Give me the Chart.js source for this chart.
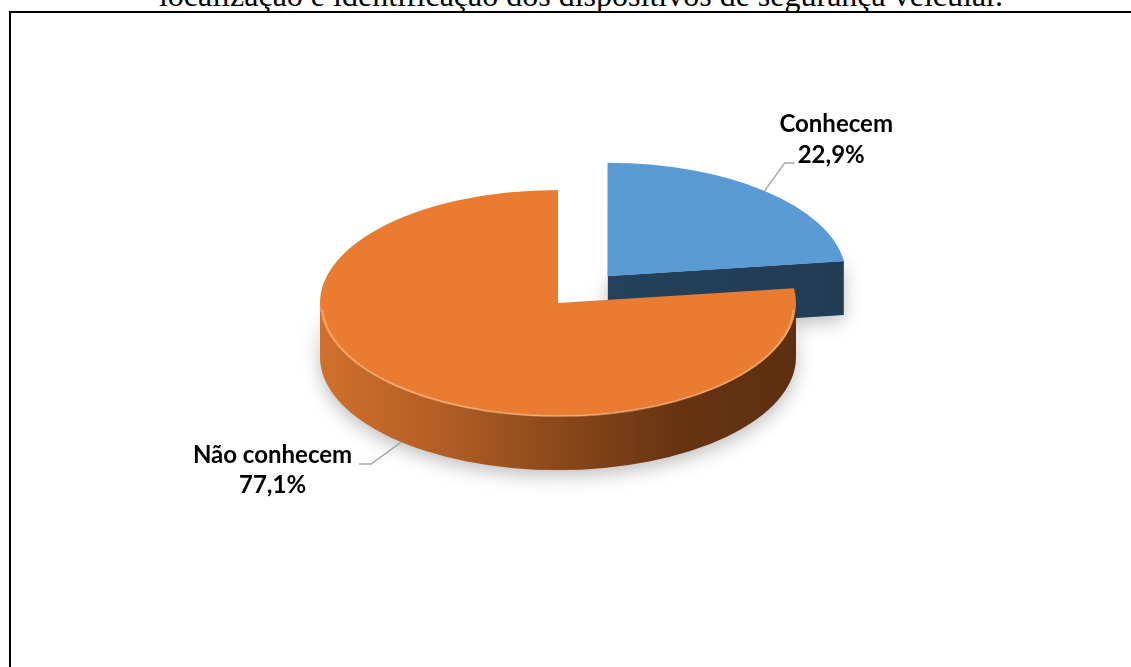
<!DOCTYPE html>
<html>
<head>
<meta charset="utf-8">
<script src="https://cdn.jsdelivr.net/npm/chart.js@4.4.1/dist/chart.umd.min.js"></script>
<style>
  html, body { margin: 0; padding: 0; background: #fff; }
  #wrap { position: relative; width: 1131px; height: 667px; overflow: hidden; }
  #caption {
    position: absolute; left: 0; top: -23px; width: 1162px;
    text-align: center; white-space: nowrap;
    font: 32px/36px "Liberation Serif", "Times New Roman", serif; color: #000;
  }
  #frame {
    position: absolute; left: 9px; top: 11px; width: 1124px; height: 700px;
    border: 2px solid #000; box-sizing: border-box;
  }
  #pie { position: absolute; left: 0; top: 0; }
</style>
</head>
<body>
<div id="wrap">
  <div id="caption">localização e identificação dos dispositivos de segurança veicular.</div>
  <div id="frame"></div>
  <canvas id="pie" width="1131" height="667"></canvas>
</div>
<script>
// answers to the question, in percent
const categories = ['Conhecem', 'Não conhecem'];
const shares = [22.9, 77.1];

const TILT = 0.475;  // vertical squash of the disc
const DEPTH = 54;    // thickness of the disc in px

// where an arc really sits once chart.js has applied its offset
const arcGeom = function getArcGeometry(arc) {
  const p = arc.getProps(['x', 'y', 'startAngle', 'endAngle', 'outerRadius', 'circumference'], true);
  const off = (arc.options.offset || 0) / 4;
  const fix = 1 - Math.sin(Math.min(Math.PI, p.circumference || 0));
  const mid = (p.startAngle + p.endAngle) / 2;
  const d = off * (1 + fix);
  return {
    cx: p.x, cy: p.y, r: p.outerRadius,
    ox: Math.cos(mid) * d, oy: Math.sin(mid) * d,
    a0: p.startAngle, a1: p.endAngle, mid: mid
  };
};

const pt = (g, ang, r, drop) => [
  g.cx + g.ox + r * Math.cos(ang),
  g.cy + (g.oy + r * Math.sin(ang)) * TILT + (drop || 0)
];

const sideFill = function makeSideFill(ctx, g, stops) {
  const grad = ctx.createLinearGradient(g.cx + g.ox - g.r, 0, g.cx + g.ox + g.r, 0);
  stops.forEach((c, i) => grad.addColorStop(i / (stops.length - 1), c));
  return grad;
};

const drawSides = function drawSliceSides(ctx, g, stops) {
  const ex = g.cx + g.ox, ey = g.cy + g.oy * TILT;
  ctx.fillStyle = sideFill(ctx, g, stops);

  // outer rim, only the front half is seen
  for (let k = -1; k <= 1; k++) {
    const lo = Math.max(g.a0, 2 * Math.PI * k);
    const hi = Math.min(g.a1, Math.PI + 2 * Math.PI * k);
    if (hi <= lo) continue;
    ctx.beginPath();
    ctx.ellipse(ex, ey, g.r, g.r * TILT, 0, lo, hi);
    const b = pt(g, hi, g.r, DEPTH);
    ctx.lineTo(b[0], b[1]);
    ctx.ellipse(ex, ey + DEPTH, g.r, g.r * TILT, 0, hi, lo, true);
    ctx.closePath();
    ctx.fill();
  }

  // cut faces of the wedge
  const faces = [];
  if (Math.cos(g.a1) > 0.01) faces.push(g.a1);
  if (Math.cos(g.a0) < -0.01) faces.push(g.a0);
  faces.forEach(a => {
    const e = pt(g, a, g.r);
    ctx.beginPath();
    ctx.moveTo(ex, ey);
    ctx.lineTo(e[0], e[1]);
    ctx.lineTo(e[0], e[1] + DEPTH);
    ctx.lineTo(ex, ey + DEPTH);
    ctx.closePath();
    ctx.fill();
  });
};

const pie3d = {
  id: 'pie3d',
  beforeDatasetsDraw(chart, args, opts) {
    const ctx = chart.ctx;
    const arcs = chart.getDatasetMeta(0).data;
    const geoms = arcs.map(arcGeom);
    const order = geoms.map((g, i) => i).sort((a, b) => Math.sin(geoms[a].mid) - Math.sin(geoms[b].mid));

    ctx.save();
    ctx.shadowColor = 'rgba(0, 0, 0, 0.25)';
    ctx.shadowBlur = 18;
    ctx.shadowOffsetY = 6;
    order.forEach(i => drawSides(ctx, geoms[i], opts.sides[i]));
    ctx.restore();

    // squash the top faces chart.js is about to draw
    const g = geoms[0];
    ctx.save();
    ctx.translate(g.cx, g.cy);
    ctx.scale(1, TILT);
    ctx.translate(-g.cx, -g.cy);
  },
  afterDatasetsDraw(chart, args, opts) {
    const ctx = chart.ctx;
    ctx.restore();

    // soft light edge along the front of the top faces
    chart.getDatasetMeta(0).data.map(arcGeom).forEach(g => {
      const lo = Math.max(g.a0, 0.05), hi = Math.min(g.a1, Math.PI - 0.05);
      if (hi <= lo) return;
      ctx.save();
      ctx.strokeStyle = 'rgba(255, 196, 150, 0.5)';
      ctx.lineWidth = 2;
      ctx.beginPath();
      ctx.ellipse(g.cx + g.ox, g.cy + g.oy * TILT + 1, g.r - 2, (g.r - 2) * TILT, 0, lo, hi);
      ctx.stroke();
      ctx.restore();
    });
  },
  afterDraw(chart, args, opts) {
    const ctx = chart.ctx;
    const arcs = chart.getDatasetMeta(0).data;
    ctx.save();
    ctx.font = 'bold 24px Lato, "Open Sans", sans-serif';
    ctx.textBaseline = 'middle';
    arcs.forEach((arc, i) => {
      const g = arcGeom(arc);
      const front = Math.sin(g.mid) > 0;
      const a = pt(g, g.mid, g.r, front ? DEPTH : 0);
      const right = Math.cos(g.mid) > 0;
      const elbow = right ? [a[0] + 20, a[1] - 28] : [a[0] - 30, a[1] + 22];
      const end = [elbow[0] + (right ? 10 : -12), elbow[1]];

      ctx.strokeStyle = '#a6a6a6';
      ctx.lineWidth = 1.5;
      ctx.beginPath();
      ctx.moveTo(a[0], a[1]);
      ctx.lineTo(elbow[0], elbow[1]);
      ctx.lineTo(end[0], end[1]);
      ctx.stroke();

      // name on top, share below, both centred on the block
      const pct = shares[i].toFixed(1).replace('.', ',') + '%';
      const w = Math.max(ctx.measureText(categories[i]).width, ctx.measureText(pct).width);
      ctx.fillStyle = '#000';
      ctx.textAlign = 'center';
      if (right) {
        const mx = end[0] + 3 + ctx.measureText(pct).width / 2;
        ctx.fillText(categories[i], mx + 5, end[1] - 39);
        ctx.fillText(pct, mx, end[1] - 8);
      } else {
        const mx = end[0] - 7 - w / 2;
        ctx.fillText(categories[i], mx, end[1] - 9);
        ctx.fillText(pct, mx, end[1] + 21);
      }
    });
    ctx.restore();
  }
};

new Chart(document.getElementById('pie'), {
  type: 'pie',
  data: {
    labels: categories,
    datasets: [{
      data: shares,
      backgroundColor: ['#5b9bd5', '#e97c30'],
      borderWidth: 0,
      offset: [300, 0],
      clip: false
    }]
  },
  options: {
    responsive: false,
    animation: false,
    events: [],
    radius: 238,
    layout: { padding: { left: 0, right: 15, top: 0, bottom: 61 } },
    plugins: {
      legend: { display: false },
      tooltip: { enabled: false },
      pie3d: {
        sides: [
          ['#274561', '#223c54'],
          ['#d0702d', '#b35e24', '#8a481b', '#673411', '#5d2f10']
        ]
      }
    }
  },
  plugins: [pie3d]
});
</script>
</body>
</html>
